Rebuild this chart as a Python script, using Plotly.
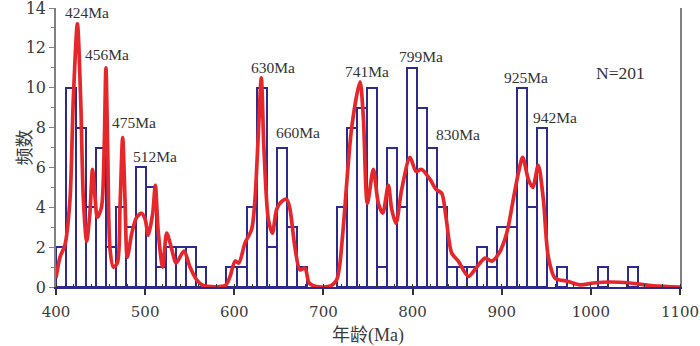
import plotly.graph_objects as go

# ---------------- data ----------------
# histogram counts (bins start at 400 Ma, bin width 11.25 Ma)
hist_start = 400
hist_bin = 11.25
hist_counts = [2, 10, 8, 4, 7, 2, 4, 3, 6, 5,
               1, 2, 2, 2, 1, 0, 0, 1, 1, 4,
               10, 2, 7, 3, 1, 0, 0, 0, 4, 8,
               9, 10, 1, 7, 4, 11, 9, 7, 4, 1,
               1, 1, 2, 1, 3, 3, 10, 4, 8, 0,
               1, 0, 0, 0, 1, 0, 0, 1]

# probability density curve (age Ma, scaled frequency)
kde_age = [400, 404.5, 410, 415.7, 419.4, 424, 427.7, 430.7, 434.4, 438,
           441, 443.8, 446.4, 451, 454, 456, 458, 460.6, 464.3, 468.8,
           471.8, 474.8, 477.4, 480, 485, 490.5, 496, 500, 503.5, 508.5,
           511.4, 514.8, 519.7, 524.2, 529.8, 534.6, 543.6, 550.3, 557.8, 565,
           590, 595, 601, 605, 612, 619.5, 623.2, 627, 630.3, 633.3,
           638.2, 642.7, 647.6, 653.2, 658.8, 662.5, 668, 673.7, 679.3, 684,
           692, 708, 714.8, 718, 722.3, 731.7, 741, 744.8, 749.3, 756,
           761.6, 766.5, 772.8, 776.6, 781.4, 787.8, 797.1, 803.9, 810.2, 819.6,
           826.3, 832.7, 837.5, 843.9, 851.3, 862.6, 872, 881.3, 889, 897,
           905.6, 913, 918.6, 923.5, 929.9, 934.8, 941, 946.7, 952.3, 959.8,
           974.7, 987.8, 1002.8, 1021.5, 1044, 1070, 1100]
kde_val = [0.45, 1.5, 2.1, 4.4, 9.4, 13.2, 9.4, 4.4, 2.3, 3.7,
           5.9, 4.5, 3.5, 4.0, 6.9, 11.0, 6.9, 1.9, 1.0, 1.2,
           4.0, 7.5, 4.4, 1.5, 2.7, 3.5, 3.7, 3.4, 2.6, 3.7,
           5.1, 2.7, 1.0, 2.7, 1.9, 1.2, 1.8, 1.0, 0.36, 0.08,
           0.08, 0.5, 1.3, 1.2, 2.2, 2.9, 4.4, 7.7, 10.5, 6.9,
           3.4, 2.7, 3.9, 4.3, 4.4, 3.9, 2.0, 0.86, 0.95, 0.2,
           0.02, 0.05, 0.36, 1.0, 3.0, 8.0, 10.3, 8.5, 4.2, 5.9,
           4.2, 3.7, 5.1, 3.9, 3.2, 4.9, 6.5, 5.8, 5.9, 5.4,
           4.9, 4.7, 3.5, 1.7, 1.3, 0.53, 1.0, 1.45, 1.3, 1.7,
           2.7, 4.4, 5.7, 6.5, 5.4, 5.0, 6.1, 4.4, 1.5, 0.45,
           0.28, 0.11, 0.2, 0.25, 0.2, 0.06, 0.0]

# peak labels
peak_labels = ["424Ma", "456Ma", "475Ma", "512Ma", "630Ma", "660Ma",
               "741Ma", "799Ma", "830Ma", "925Ma", "942Ma"]
peak_label_x = [435.3, 457.2, 487.5, 510.7, 642.9, 671.5,
                748.9, 808.9, 851.3, 927.0, 959.8]
peak_label_y = [13.77, 11.65, 8.27, 6.56, 11.02, 7.77,
                10.81, 11.56, 7.67, 10.52, 8.52]
n_label = "N=201"

x_tick_vals = [400, 500, 600, 700, 800, 900, 1000, 1100]
y_tick_vals = [0, 2, 4, 6, 8, 10, 12, 14]

# ---------------- figure ----------------
NAVY = "#2d2a8e"
RED = "#e5262b"
SERIF = "DejaVu Serif, Liberation Serif, serif"
LABEL_FONT = "Liberation Serif, Times New Roman, serif"
CJK = "Liberation Serif, Noto Sans CJK SC, sans-serif"

bar_x = [hist_start + (i + 0.5) * hist_bin for i in range(len(hist_counts))]
bx = [x for x, c in zip(bar_x, hist_counts) if c > 0]
by = [c for c in hist_counts if c > 0]

fig = go.Figure()
fig.add_trace(go.Bar(
    x=bx, y=by, width=hist_bin,
    marker=dict(color="rgba(255,255,255,0)", line=dict(color=NAVY, width=2)),
    hoverinfo="skip", showlegend=False,
))
fig.add_trace(go.Scatter(
    x=kde_age, y=kde_val, mode="lines",
    line=dict(color=RED, width=3.7, shape="spline", smoothing=0.8),
    showlegend=False, cliponaxis=False,
))

for t, x, y in zip(peak_labels, peak_label_x, peak_label_y):
    fig.add_annotation(x=x, y=y, text=t, showarrow=False, xref="x", yref="y",
                       xanchor="center", yanchor="middle",
                       font=dict(family=LABEL_FONT, size=15.5, color="#333333"))
fig.add_annotation(x=1033.8, y=10.73, text=n_label, showarrow=False,
                   xref="x", yref="y", xanchor="center", yanchor="middle",
                   font=dict(family=LABEL_FONT, size=17.5, color="#333333"))
# y-axis title placed as rotated annotation
fig.add_annotation(x=0, y=0.5, xref="paper", yref="paper", xshift=-34,
                   text="频数", textangle=-90, showarrow=False,
                   xanchor="center", yanchor="middle",
                   font=dict(family="Noto Sans CJK SC, sans-serif", size=18, color="#3a3a3a"))

fig.update_layout(
    width=700, height=346,
    margin=dict(l=56, r=20, t=8, b=59),
    paper_bgcolor="white", plot_bgcolor="white",
    bargap=0, showlegend=False,
)
fig.update_xaxes(
    range=[400, 1100], tickvals=x_tick_vals,
    ticks="outside", ticklen=6, tickwidth=1.5, tickcolor="#333333",
    showline=True, linecolor=NAVY, linewidth=2,
    showgrid=False, zeroline=False,
    tickfont=dict(family=SERIF, size=15, color="#3a3a3a"),
    ticklabelstandoff=4, ticklabeloverflow="allow",
    minor=dict(dtick=20, ticks="inside", ticklen=3, tickcolor="#333333", tickwidth=1.2, showgrid=False),
    title=dict(text="年龄(Ma)", font=dict(family=CJK, size=18, color="#3a3a3a"), standoff=10),
    automargin=False,
)
fig.update_yaxes(
    range=[0, 14], tickvals=y_tick_vals,
    ticks="outside", ticklen=5, tickwidth=1.2, tickcolor="#808080",
    showline=True, linecolor="#808080", linewidth=1.5, mirror=True,
    showgrid=False, zeroline=False,
    tickfont=dict(family=SERIF, size=16, color="#3a3a3a"),
    ticklabeloverflow="allow",
    minor=dict(dtick=1, ticks="outside", ticklen=3, tickcolor="#808080", tickwidth=1.2, showgrid=False),
    automargin=False,
)

fig.write_html("out.html", config={"displayModeBar": False},
               post_script="document.body.style.margin='0px';document.body.style.padding='0px';")
